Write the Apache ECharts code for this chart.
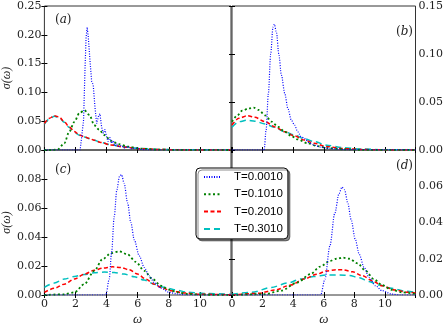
<!DOCTYPE html>
<html>
<head>
<meta charset="utf-8">
<script src="https://cdn.jsdelivr.net/npm/echarts@6/dist/echarts.min.js"></script>
<style>
html, body { margin: 0; padding: 0; background: #fff; }
#chart { width: 446px; height: 327px; }
</style>
</head>
<body>
<div id="chart"></div>
<script>
var legendNames = ['T=0.0010', 'T=0.1010', 'T=0.2010', 'T=0.3010'];
var xTicks = [0, 2, 4, 6, 8, 10, 12];

// panel (a)
var aBlueW = [0, 2.3, 2.4, 2.52, 2.61, 2.68, 2.75, 2.82, 2.93, 3.04, 3.14, 3.25, 3.36, 3.47, 3.57, 3.68, 3.79, 3.89, 4.0, 4.1, 4.21, 4.32, 4.43, 4.53, 4.66, 4.79, 4.96, 5.13, 5.35, 5.6, 5.88, 6.2, 7, 12];
var aBlueS = [0, 0, 0.002, 0.052, 0.139, 0.195, 0.213, 0.197, 0.156, 0.119, 0.113, 0.075, 0.046, 0.058, 0.063, 0.040, 0.029, 0.036, 0.023, 0.0145, 0.022, 0.0116, 0.016, 0.007, 0.0104, 0.006, 0.008, 0.0035, 0.006, 0.0023, 0.0035, 0.001, 0, 0];
var aGreenW = [0, 0.5, 0.86, 1.28, 1.6, 1.93, 2.25, 2.57, 2.89, 3.21, 3.53, 3.85, 4.28, 4.81, 5.35, 6.2, 7.2, 8.5, 12];
var aGreenS = [0, 0, 0.001, 0.0116, 0.032, 0.049, 0.064, 0.069, 0.061, 0.043, 0.035, 0.026, 0.016, 0.010, 0.006, 0.0023, 0.0008, 0.0002, 0];
var aRedW = [0, 0.32, 0.64, 0.96, 1.28, 1.6, 1.93, 2.25, 2.57, 2.89, 3.21, 3.64, 4.28, 5.13, 6.2, 7.5, 9, 12];
var aRedS = [0.046, 0.055, 0.0596, 0.057, 0.049, 0.040, 0.032, 0.026, 0.023, 0.020, 0.017, 0.013, 0.0087, 0.005, 0.0023, 0.0008, 0.0002, 0];
var aCyanS = [0.045, 0.054, 0.0585, 0.056, 0.048, 0.039, 0.031, 0.0255, 0.0225, 0.0198, 0.017, 0.013, 0.009, 0.0052, 0.0025, 0.001, 0.0003, 0];

// panel (b)
var bBlueW = [0, 2.1, 2.23, 2.38, 2.53, 2.68, 2.77, 2.91, 3.06, 3.23, 3.45, 3.66, 3.88, 4.09, 4.3, 4.52, 4.73, 5.05, 5.37, 5.8, 6.44, 7.5, 12];
var bBlueS = [0, 0, 0.021, 0.059, 0.10, 0.128, 0.131, 0.122, 0.10, 0.078, 0.059, 0.043, 0.031, 0.026, 0.019, 0.014, 0.012, 0.0076, 0.005, 0.003, 0.0014, 0.0003, 0];
var bGreenW = [0, 0.35, 0.67, 1.1, 1.42, 1.74, 2.17, 2.59, 3.02, 3.45, 3.88, 4.3, 4.94, 5.59, 6.23, 7.2, 8.5, 12];
var bGreenS = [0.0295, 0.036, 0.041, 0.0434, 0.0442, 0.0417, 0.036, 0.0295, 0.024, 0.019, 0.0146, 0.011, 0.007, 0.004, 0.002, 0.0008, 0.0002, 0];
var bRedW = [0, 0.45, 1.0, 1.5, 2.17, 2.81, 3.45, 4.09, 4.73, 5.37, 6.2, 7.2, 8.5, 10, 12];
var bRedS = [0.026, 0.033, 0.0358, 0.034, 0.0295, 0.024, 0.019, 0.0146, 0.0104, 0.007, 0.0035, 0.0015, 0.0005, 0.0001, 0];
var bCyanS = [0.0236, 0.0295, 0.031, 0.030, 0.027, 0.0236, 0.019, 0.0156, 0.0118, 0.0087, 0.005, 0.0025, 0.001, 0.0003, 0];

// panel (c)
var cBlueW = [0, 3.95, 4.17, 4.32, 4.49, 4.66, 4.83, 4.96, 5.13, 5.35, 5.56, 5.78, 6.1, 6.42, 6.74, 7.06, 7.49, 8.02, 8.56, 9.1, 12];
var cBlueS = [0, 0, 0.011, 0.029, 0.054, 0.0726, 0.0817, 0.083, 0.077, 0.0635, 0.050, 0.038, 0.027, 0.019, 0.0132, 0.0087, 0.0048, 0.0018, 0.0007, 0, 0];
var cGreenW = [0, 1.28, 1.93, 2.57, 3.21, 3.74, 4.28, 4.81, 5.35, 5.88, 6.42, 6.95, 7.49, 8.02, 8.56, 9.2, 10.2, 12];
var cGreenS = [0, 0.0005, 0.0018, 0.0075, 0.0167, 0.0247, 0.0288, 0.0301, 0.028, 0.0228, 0.0167, 0.011, 0.0064, 0.0037, 0.0018, 0.0007, 0.0002, 0];
var cRedW = [0, 0.64, 1.28, 1.93, 2.57, 3.21, 3.74, 4.39, 4.92, 5.45, 5.99, 6.52, 7.06, 7.59, 8.13, 8.98, 10.05, 12];
var cRedS = [0.0018, 0.0046, 0.0075, 0.011, 0.0144, 0.0171, 0.0185, 0.0194, 0.019, 0.0174, 0.0144, 0.011, 0.0075, 0.0048, 0.003, 0.0014, 0.0005, 0.0001];
var cCyanW = [0, 0.64, 1.28, 1.93, 2.57, 3.21, 3.85, 4.49, 5.13, 5.78, 6.42, 7.06, 7.7, 8.34, 9.2, 10.27, 12];
var cCyanS = [0.0053, 0.0082, 0.011, 0.0128, 0.0142, 0.0153, 0.0158, 0.0155, 0.0144, 0.0126, 0.0103, 0.0075, 0.0053, 0.0037, 0.002, 0.0011, 0.0005];

// panel (d)
var dBlueW = [0, 5.8, 6.08, 6.4, 6.72, 7.0, 7.19, 7.36, 7.57, 7.79, 8.06, 8.32, 8.64, 8.96, 9.38, 9.81, 10.45, 11, 12];
var dBlueS = [0, 0, 0.0088, 0.027, 0.045, 0.056, 0.0595, 0.058, 0.0508, 0.0416, 0.0307, 0.0225, 0.0152, 0.0097, 0.0051, 0.0024, 0.0005, 0, 0];
var dGreenW = [0, 2.15, 3.21, 4.27, 5.13, 5.77, 6.4, 6.83, 7.25, 7.68, 8.21, 8.74, 9.27, 9.81, 10.45, 11.08, 12];
var dGreenS = [0, 0.0005, 0.0024, 0.0069, 0.0115, 0.0157, 0.0188, 0.020, 0.0206, 0.020, 0.0175, 0.0133, 0.0088, 0.0055, 0.0029, 0.0015, 0.0006];
var dRedW = [0, 1.72, 2.79, 3.85, 4.7, 5.55, 6.19, 6.83, 7.25, 7.89, 8.53, 9.17, 9.81, 10.66, 11.51, 12];
var dRedS = [0, 0.0009, 0.0027, 0.0055, 0.0088, 0.0115, 0.0133, 0.0139, 0.0139, 0.0128, 0.0106, 0.0079, 0.0051, 0.0027, 0.0015, 0.0011];
var dCyanW = [0, 1.3, 2.57, 3.64, 4.49, 5.34, 6.19, 7.04, 7.68, 8.32, 8.96, 9.6, 10.45, 11.3, 12];
var dCyanS = [0.0004, 0.0015, 0.0042, 0.0066, 0.0088, 0.0102, 0.011, 0.0111, 0.0108, 0.0095, 0.0075, 0.0055, 0.0037, 0.0022, 0.0015];

// y ranges per panel
var yMax = [0.25, 0.15, 0.10, 0.08];
var yStep = [0.05, 0.05, 0.02, 0.02];

var colors = ['#0000ff', '#008000', '#ff0000', '#00bfbf'];
var dashes = [[1, 1.5], [2, 2.5], [4, 2.5], [6, 4]];
var widths = [1.2, 1.8, 1.5, 1.5];

var tickFont = 'DejaVu Serif';

function pairs(w, s) {
	return w.map(function(x, i) { return [x, s[i]]; });
}

var panels = [
	[pairs(aBlueW, aBlueS), pairs(aGreenW, aGreenS), pairs(aRedW, aRedS), pairs(aRedW, aCyanS)],
	[pairs(bBlueW, bBlueS), pairs(bGreenW, bGreenS), pairs(bRedW, bRedS), pairs(bRedW, bCyanS)],
	[pairs(cBlueW, cBlueS), pairs(cGreenW, cGreenS), pairs(cRedW, cRedS), pairs(cCyanW, cCyanS)],
	[pairs(dBlueW, dBlueS), pairs(dGreenW, dGreenS), pairs(dRedW, dRedS), pairs(dCyanW, dCyanS)]
];

var grids = [
	{left: 44, top: 6, width: 187, height: 144},
	{left: 232, top: 6, width: 187, height: 144},
	{left: 44, top: 150, width: 187, height: 146},
	{left: 232, top: 150, width: 187, height: 146}
];
grids.forEach(function(g) {
	g.show = true;
	g.borderColor = '#333';
	g.borderWidth = 1;
	g.backgroundColor = 'transparent';
});

var xAxes = [], yAxes = [], series = [];
for (var k = 0; k < 4; k++) {
	var bottomRow = k >= 2;
	var leftCol = (k % 2) == 0;
	['bottom', 'top'].forEach(function(pos) {
		var showLab = bottomRow && pos == 'bottom';
		xAxes.push({
			type: 'value', gridIndex: k, position: pos,
			min: xTicks[0], max: xTicks[xTicks.length - 1], interval: 2,
			axisLine: {show: false},
			axisTick: {show: true, inside: true, length: 3, lineStyle: {color: '#000'}},
			splitLine: {show: false},
			axisLabel: {show: showLab, showMaxLabel: false, margin: 4,
				fontFamily: tickFont, fontSize: 11, color: '#222'},
			name: showLab ? 'ω' : '',
			nameLocation: 'middle', nameGap: 18,
			nameTextStyle: {fontFamily: 'Liberation Serif', fontStyle: 'italic', fontSize: 13, color: '#222'}
		});
	});
	['left', 'right'].forEach(function(pos) {
		var showLab = (leftCol && pos == 'left') || (!leftCol && pos == 'right');
		var hideMax = k >= 2;
		yAxes.push({
			type: 'value', gridIndex: k, position: pos,
			min: 0, max: yMax[k], interval: yStep[k],
			axisLine: {show: false},
			axisTick: {show: true, inside: true, length: 3, lineStyle: {color: '#000'}},
			splitLine: {show: false},
			axisLabel: {show: showLab, showMaxLabel: !hideMax, margin: 3,
				fontFamily: tickFont, fontSize: 11, color: '#222',
				formatter: function(v) { return v.toFixed(2); }},
			name: (showLab && leftCol) ? 'σ(ω)' : '',
			nameLocation: 'middle', nameGap: 30,
			nameTextStyle: {fontFamily: 'Liberation Serif', fontStyle: 'italic', fontSize: 12, color: '#222'}
		});
	});
	for (var j = 0; j < 4; j++) {
		series.push({
			name: legendNames[j],
			type: 'line',
			xAxisIndex: 2 * k,
			yAxisIndex: 2 * k,
			data: panels[k][j],
			symbol: 'none',
			smooth: (k == 0 && j == 0) ? false : 0.3,
			smoothMonotone: 'x',
			lineStyle: {color: colors[j], width: widths[j], type: dashes[j]},
			itemStyle: {color: colors[j]},
			z: 2 + (3 - j)
		});
	}
}

function panelLabel(ch, x, y) {
	return {
		type: 'text', left: x, top: y, z: 10,
		style: {
			text: '({i|' + ch + '})',
			font: '12px "DejaVu Serif"',
			fill: '#222',
			rich: {i: {fontStyle: 'italic', fontFamily: 'DejaVu Serif', fontSize: 12, fill: '#222'}}
		}
	};
}

var chart = echarts.init(document.getElementById('chart'), null, {renderer: 'canvas'});
chart.setOption({
	animation: false,
	backgroundColor: '#fff',
	grid: grids,
	xAxis: xAxes,
	yAxis: yAxes,
	series: series,
	legend: {
		data: legendNames,
		orient: 'vertical',
		left: 196, top: 168,
		itemWidth: 17, itemHeight: 12, itemGap: 5.3,
		padding: [3, 5, 4, 7],
		backgroundColor: '#fff',
		borderColor: '#000', borderWidth: 1, borderRadius: 4,
		shadowColor: 'rgba(0,0,0,0.45)', shadowOffsetX: 2, shadowOffsetY: 2, shadowBlur: 0,
		selectedMode: false,
		itemStyle: {opacity: 0},
		textStyle: {fontFamily: 'Liberation Sans', fontSize: 11.5, color: '#000', padding: [0, 0, 0, 8]},
		z: 20
	},
	graphic: [
		panelLabel('a', 55, 14),
		panelLabel('b', 396, 26),
		panelLabel('c', 55, 164),
		panelLabel('d', 396, 160)
	]
});
</script>
</body>
</html>
